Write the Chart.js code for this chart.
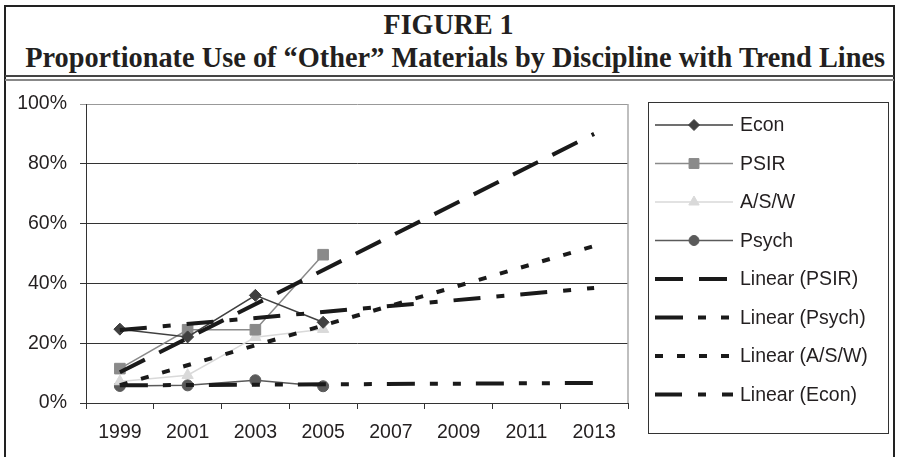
<!DOCTYPE html>
<html>
<head>
<meta charset="utf-8">
<script src="https://cdn.jsdelivr.net/npm/chart.js@4.4.1/dist/chart.umd.min.js"></script>
<style>
body { margin: 0; background: #fff; }
#wrap { position: relative; width: 897px; height: 457px; overflow: hidden; }
#frame { position: absolute; left: 4px; top: 5px; width: 891px; height: 470px; border: 2px solid #222; border-bottom: none; box-sizing: border-box; }
.rule { position: absolute; left: 5px; width: 889px; height: 0; }
#rule1 { top: 75px; border-top: 2px solid #444; }
#rule2 { top: 79px; border-top: 2px solid #888; }
.ttl { position: absolute; left: 0; width: 897px; text-align: center; font-family: "Liberation Serif", "Times New Roman", serif; font-weight: bold; font-size: 30px; line-height: 30px; color: #231f20; white-space: nowrap; }
.ttl span { display: inline-block; transform-origin: center; }
#t1 { top: 9px; }
#t2 { top: 42px; }
canvas { position: absolute; left: 0; top: 0; }
</style>
</head>
<body>
<div id="wrap">
  <div id="frame"></div>
  <div id="t1" class="ttl"><span>FIGURE 1</span></div>
  <div id="t2" class="ttl"><span>Proportionate Use of “Other” Materials by Discipline with Trend Lines</span></div>
  <div id="rule1" class="rule"></div>
  <div id="rule2" class="rule"></div>
  <canvas id="grafico" width="897" height="457"></canvas>
</div>
<script>
// Datos (porcentajes)
const years = ['1999', '2001', '2003', '2005', '2007', '2009', '2011', '2013'];
const econ = [24.7, 22.1, 36.0, 27.0];
const psir = [11.5, 24.5, 24.5, 49.6];
const asw = [7.2, 9.3, 22.0, 24.7];
const psych = [5.7, 5.9, 7.6, 5.6];
// lineas de tendencia: valor en 1999 y en 2013
const trendPsir = [10.3, 90.0];
const trendPsych = [5.9, 6.7];
const trendAsw = [6.0, 52.5];
const trendEcon = [24.4, 38.5];
const yTicks = [0, 20, 40, 60, 80, 100];

const fontFam = '"Liberation Sans", Arial, sans-serif';
const textColor = '#231f20';

// tendencia: primer y ultimo punto, el resto vacio
function trend(ends) {
    const arr = years.map(() => null);
    arr[0] = ends[0];
    arr[years.length - 1] = ends[1];
    return arr;
}

// Ajustar ancho de los titulos
function fitTitle(id, w) {
    const sp = document.getElementById(id).firstElementChild;
    const k = w / sp.getBoundingClientRect().width;
    sp.style.transform = 'scaleX(' + k + ')';
}
fitTitle('t1', 130);
fitTitle('t2', 860);

function serie(label, data, color, style, radius) {
    return {
        label: label,
        data: data,
        borderColor: color,
        backgroundColor: color,
        pointBackgroundColor: color,
        pointBorderColor: color,
        borderWidth: 1.5,
        pointStyle: style,
        pointRadius: radius,
        pointBorderWidth: 1,
        tension: 0,
        order: 1
    };
}

function tendencia(label, ends, dash) {
    return {
        label: label,
        data: trend(ends),
        borderColor: '#1a1a1a',
        backgroundColor: '#1a1a1a',
        borderWidth: 4,
        borderDash: dash,
        borderCapStyle: 'butt',
        pointRadius: 0,
        spanGaps: true,
        tension: 0,
        order: 0
    };
}

// Leyenda dibujada en una caja a la derecha
const cajaLeyenda = {
    id: 'cajaLeyenda',
    afterDraw(chart) {
        const ctx = chart.ctx;
        ctx.save();
        ctx.strokeStyle = '#333';
        ctx.lineWidth = 1;
        ctx.strokeRect(648.5, 102.5, 240, 331);
        chart.data.datasets.forEach((ds, i) => {
            const y = 125 + i * 38.5;
            ctx.save();
            ctx.strokeStyle = ds.borderColor;
            ctx.lineWidth = ds.borderWidth;
            ctx.lineCap = 'butt';
            ctx.setLineDash(ds.borderDash || []);
            ctx.beginPath();
            ctx.moveTo(655, y);
            ctx.lineTo(733, y);
            ctx.stroke();
            ctx.restore();
            if (ds.pointRadius > 0) {
                ctx.fillStyle = ds.pointBackgroundColor;
                ctx.strokeStyle = ds.pointBorderColor;
                ctx.lineWidth = 1;
                Chart.helpers.drawPoint(ctx, {
                    pointStyle: ds.pointStyle, radius: ds.pointRadius - 0.5, rotation: 0, borderWidth: 1
                }, 694, y);
            }
            ctx.fillStyle = textColor;
            ctx.font = '19.5px ' + fontFam;
            ctx.textBaseline = 'middle';
            ctx.textAlign = 'left';
            ctx.fillText(ds.label, 740, y + 1);
        });
        ctx.restore();
    }
};

// Borde gris del area de trazado (lado derecho)
const bordeArea = {
    id: 'bordeArea',
    beforeDatasetsDraw(chart) {
        const a = chart.chartArea;
        const ctx = chart.ctx;
        ctx.save();
        ctx.strokeStyle = '#aaa';
        ctx.lineWidth = 1.5;
        ctx.beginPath();
        ctx.moveTo(a.right, a.top);
        ctx.lineTo(a.right, a.bottom);
        ctx.stroke();
        ctx.restore();
    }
};

const ctx = document.getElementById('grafico').getContext('2d');
const miGrafico = new Chart(ctx, {
    type: 'line',
    data: {
        labels: years,
        datasets: [
            serie('Econ', econ, '#404040', 'rectRot', 6),
            serie('PSIR', psir, '#8a8a8a', 'rect', 7.5),
            serie('A/S/W', asw, '#d9d9d9', 'triangle', 6.5),
            serie('Psych', psych, '#5a5a5a', 'circle', 5.5),
            tendencia('Linear (PSIR)', trendPsir, [28, 16]),
            tendencia('Linear (Psych)', trendPsych, [28, 15, 8, 15, 8, 15]),
            tendencia('Linear (A/S/W)', trendAsw, [8, 14]),
            tendencia('Linear (Econ)', trendEcon, [27, 16, 8, 16])
        ]
    },
    options: {
        responsive: false,
        animation: false,
        layout: { padding: { left: 0, top: 104, right: 269, bottom: 0 } },
        plugins: {
            legend: { display: false },
            tooltip: { enabled: false }
        },
        scales: {
            x: {
                type: 'category',
                offset: true,
                grid: { offset: true, drawOnChartArea: false, color: '#333', tickLength: 6 },
                border: { color: '#333', width: 1 },
                ticks: { color: textColor, font: { size: 19.5, family: fontFam }, padding: 12, maxRotation: 0, autoSkip: false },
                afterFit: s => { s.height = 54; }
            },
            y: {
                min: 0,
                max: 100,
                afterBuildTicks: s => { s.ticks = yTicks.map(v => ({ value: v })); },
                grid: {
                    color: c => (c.tick && c.tick.value === 100) ? '#999' : '#333',
                    tickLength: 6
                },
                border: { color: '#333', width: 1 },
                ticks: { color: textColor, font: { size: 19.5, family: fontFam }, padding: 13, callback: v => v + '%' },
                afterFit: s => { s.width = 86; }
            }
        }
    },
    plugins: [bordeArea, cajaLeyenda]
});
</script>
</body>
</html>
